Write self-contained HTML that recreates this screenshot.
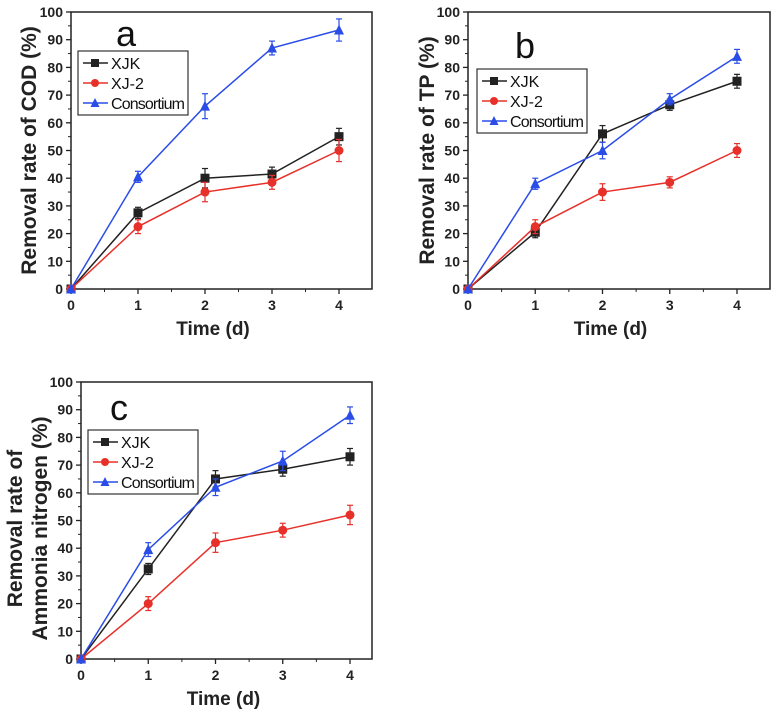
<!DOCTYPE html>
<html><head><meta charset="utf-8"><style>
body{margin:0;background:#fff;}
svg{display:block;font-family:"Liberation Sans",Arial,sans-serif;}
</style></head><body>
<svg id="fig" width="774" height="722" viewBox="0 0 774 722" xmlns="http://www.w3.org/2000/svg"></svg>
<script>
const days = [0,1,2,3,4];
const seriesNames = ["XJK","XJ-2","Consortium"];
const yTicks = [0,10,20,30,40,50,60,70,80,90,100];
const xTicks = [0,1,2,3,4];
const aXJK = [0,27.5,40,41.5,55];
const aXJ2 = [0,22.5,35,38.5,50];
const aCons = [0,40.5,66,87,93.5];
const aErrXJK = [0,2,3.5,2.5,3];
const aErrXJ2 = [0,2.5,3.5,2.5,4];
const aErrCons = [0,2,4.5,2.5,4];
const bXJK = [0,20.5,56,66.5,75];
const bXJ2 = [0,22.5,35,38.5,50];
const bCons = [0,38,50,68.5,84];
const bErrXJK = [0,2,3,2,2.5];
const bErrXJ2 = [0,2.5,3,2,2.5];
const bErrCons = [0,2,3,2,2.5];
const cXJK = [0,32.5,65,68.5,73];
const cXJ2 = [0,20,42,46.5,52];
const cCons = [0,39.5,62,71.5,88];
const cErrXJK = [0,2,3,2.5,3];
const cErrXJ2 = [0,2.5,3.5,2.5,3.5];
const cErrCons = [0,2.5,3,3.5,3];

const svg = document.getElementById('fig');
const NS = "http://www.w3.org/2000/svg";
function mk(tag, attrs, parent){const e=document.createElementNS(NS,tag);for(const k in attrs)e.setAttribute(k,attrs[k]);(parent||svg).appendChild(e);return e;}
const colors = ["#222","#e8302a","#2a4de8"];

function panel(p){
  const g = mk('g',{});
  
  
  const sx = v => p.left + v*p.dx;
  const sy = v => p.bottom - v*(p.bottom-p.y100)/100;
  const frame = mk('rect',{x:p.left,y:p.top,width:p.right-p.left,height:p.bottom-p.top,fill:'none',stroke:'#222','stroke-width':1.5},g);
  
  
  yTicks.forEach((t,i)=>{
    if(sy(t) < p.top-1) return;
    mk('line',{x1:p.left-5,x2:p.left,y1:sy(t),y2:sy(t),stroke:'#222','stroke-width':1.3},g);
    if(i<yTicks.length-1){const m=(t+5); if(sy(m)>=p.top) mk('line',{x1:p.left-3,x2:p.left,y1:sy(m),y2:sy(m),stroke:'#222','stroke-width':1},g);}
    const tx=mk('text',{x:p.left-8,y:sy(t)+5,'text-anchor':'end','font-size':14,'font-weight':'bold',fill:'#222'},g);
    tx.textContent=t;
    
    
  });
  xTicks.forEach(t=>{
    mk('line',{x1:sx(t),x2:sx(t),y1:p.bottom,y2:p.bottom+5,stroke:'#222','stroke-width':1.3},g);
    if(sx(t+0.5)<p.right) mk('line',{x1:sx(t+0.5),x2:sx(t+0.5),y1:p.bottom,y2:p.bottom+3,stroke:'#222','stroke-width':1},g);
    const tx=mk('text',{x:sx(t),y:p.bottom+21,'text-anchor':'middle','font-size':14,'font-weight':'bold',fill:'#222'},g);
    tx.textContent=t;
    
    
  });
  const xt=mk('text',{x:(p.left+sx(4))/2+8,y:p.bottom+46,'text-anchor':'middle','font-size':19,'font-weight':'bold',fill:'#222'},g);
  xt.textContent='Time (d)';
  
  
  p.ytitle.forEach((line,i)=>{
    const cx=p.ytx + i*25, cy=(p.top+p.bottom)/2+p.yoff;
    const yt=mk('text',{x:cx,y:cy,transform:`rotate(-90 ${cx} ${cy})`,'text-anchor':'middle','font-size':21,'font-weight':'bold',fill:'#222'},g);
    yt.textContent=line;
    
    
  });
  const lt=mk('text',{x:p.lx,y:p.ly,'font-size':36,fill:'#111'},g);
  lt.textContent=p.letter;
  
  
  p.series.forEach((vals,si)=>{
    const c=colors[si];
    const sg=mk('g',{},g);
    
    
    mk('polyline',{points:days.map((d,i)=>sx(d)+','+sy(vals[i])).join(' '),fill:'none',stroke:c,'stroke-width':1.5},sg);
    days.forEach((d,i)=>{
      const e=p.errs[si][i];
      if(e>0){
        mk('line',{x1:sx(d),x2:sx(d),y1:sy(vals[i]-e),y2:sy(vals[i]+e),stroke:c,'stroke-width':1.2},sg);
        mk('line',{x1:sx(d)-3,x2:sx(d)+3,y1:sy(vals[i]-e),y2:sy(vals[i]-e),stroke:c,'stroke-width':1.2},sg);
        mk('line',{x1:sx(d)-3,x2:sx(d)+3,y1:sy(vals[i]+e),y2:sy(vals[i]+e),stroke:c,'stroke-width':1.2},sg);
      }
      marker(sg,si,sx(d),sy(vals[i]),4.5);
    });
  });
  const lg=mk('g',{},g);
  
  
  mk('rect',{x:p.legx,y:p.legy,width:110,height:64,fill:'#fff',stroke:'#333','stroke-width':1.2},lg);
  seriesNames.forEach((n,si)=>{
    const yy=p.legy+12+si*20;
    mk('line',{x1:p.legx+5,x2:p.legx+30,y1:yy,y2:yy,stroke:colors[si],'stroke-width':1.5},lg);
    marker(lg,si,p.legx+17,yy,4);
    const t=mk('text',{x:p.legx+33,y:yy+6,'font-size':16,textLength:n==='Consortium'?74:null,fill:'#111'},lg);
    if(n!=='Consortium') t.removeAttribute('textLength');
    t.textContent=n;
    
    
  });
}
function marker(par,si,x,y,r){
  const c=colors[si];
  if(si===0) mk('rect',{x:x-r,y:y-r,width:2*r,height:2*r,fill:c},par);
  else if(si===1) mk('circle',{cx:x,cy:y,r:r,fill:c},par);
  else mk('polygon',{points:`${x},${y-r-1} ${x-r-0.5},${y+r} ${x+r+0.5},${y+r}`,fill:c},par);
}
panel({letter:'a',left:71,right:372,top:12,bottom:289,y100:12,dx:67,ytitle:['Removal rate of COD (%)'],ytx:36,yoff:0,lx:116,ly:46,legx:78,legy:51,
  series:[aXJK,aXJ2,aCons],errs:[aErrXJK,aErrXJ2,aErrCons]});
panel({letter:'b',left:468,right:770,top:12,bottom:289,y100:12,dx:67.25,ytitle:['Removal rate of TP (%)'],ytx:434,yoff:0,lx:515,ly:58,legx:477,legy:69,
  series:[bXJK,bXJ2,bCons],errs:[bErrXJK,bErrXJ2,bErrCons]});
panel({letter:'c',left:81,right:372,top:382,bottom:659,y100:382,dx:67.25,ytitle:['Removal rate of','Ammonia nitrogen (%)'],ytx:22,yoff:8,lx:110,ly:420,legx:88,legy:430,
  series:[cXJK,cXJ2,cCons],errs:[cErrXJK,cErrXJ2,cErrCons]});
</script>
</body></html>
